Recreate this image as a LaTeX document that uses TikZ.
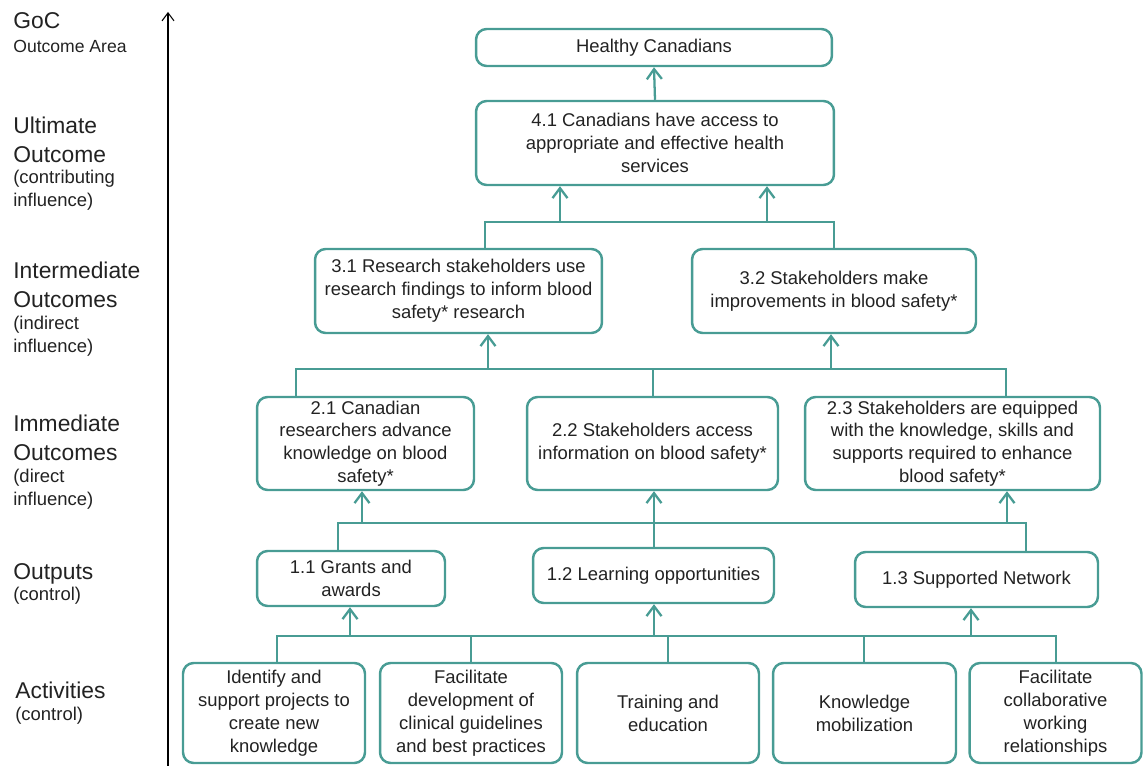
\documentclass[tikz,border=0pt]{standalone}
\usepackage{fontspec}
\setmainfont{Liberation Sans}
\usetikzlibrary{arrows.meta}
\definecolor{lmteal}{RGB}{72,156,148}
\definecolor{txtgray}{RGB}{34,34,34}

\begin{document}
\begin{tikzpicture}[
  x=0.02cm,y=-0.02cm,
  box/.style={draw=lmteal,line width=1.4pt,rounded corners=6pt,align=center,
              font=\fontsize{10.5}{13}\selectfont,text=txtgray,inner sep=2pt},
  outc/.style={box,minimum height=1.68cm},
  imm/.style={box,minimum height=1.86cm},
  outp/.style={box,minimum height=1.1cm},
  act/.style={box,minimum height=2cm,minimum width=3.64cm},
  ln/.style={draw=lmteal,line width=1.3pt},
  ar/.style={ln,-{Straight Barb[length=2mm,width=3mm]}},
  lvl/.style={anchor=north west,align=left,inner sep=0pt,text=txtgray,
              font=\fontsize{13}{16}\selectfont},
  lvls/.style={lvl,font=\fontsize{10.5}{13}\selectfont}
]
\useasboundingbox (0,0) rectangle (1143,766);

% level labels and axis
\node[lvl] (l0) at (13,12) {GoC};
\node[lvls,font=\fontsize{10}{12}\selectfont] (l0s) at (13,40) {Outcome Area};
\node[lvl] (l1) at (13,117) {Ultimate\\Outcome};
\node[lvls] (l1s) at (13,170) {(contributing\\influence)};
\node[lvl] (l2) at (13,262) {Intermediate\\Outcomes};
\node[lvls] (l2s) at (13,316) {(indirect\\influence)};
\node[lvl] (l3) at (13,415) {Immediate\\Outcomes};
\node[lvls] (l3s) at (13,469) {(direct\\influence)};
\node[lvl] (l4) at (13,563) {Outputs};
\node[lvls] (l4s) at (13,587) {(control)};
\node[lvl] (l5) at (15,682) {Activities};
\node[lvls] (l5s) at (15,707) {(control)};
\coordinate (axbot) at (168,766);
\coordinate (axtop) at (168,12);
\draw[line width=0.6pt,-{Straight Barb[length=1.6mm,width=2.4mm]}] (axbot) -- (axtop);

% outcome boxes
\node[box,minimum width=7.12cm,minimum height=0.74cm] (goc) at (654,47.5) {Healthy Canadians};
\node[outc,minimum width=7.16cm] (o41) at (655,143)
  {4.1 Canadians have access to\\appropriate and effective health\\services};
\node[outc,minimum width=5.74cm] (o31) at (458.5,291)
  {3.1 Research stakeholders use\\research findings to inform blood\\safety* research};
\node[outc,minimum width=5.68cm] (o32) at (834,291)
  {3.2 Stakeholders make\\improvements in blood safety*};
\node[imm,minimum width=4.34cm] (o21) at (365.5,443.5)
  {2.1 Canadian\\researchers advance\\knowledge on blood\\safety*};
\node[imm,minimum width=5.02cm] (o22) at (652.5,443.5)
  {2.2 Stakeholders access\\information on blood safety*};
\node[imm,minimum width=5.9cm] (o23) at (952.5,443.5)
  {2.3 Stakeholders are equipped\\with the knowledge, skills and\\supports required to enhance\\blood safety*};

% outputs
\node[outp,minimum width=3.76cm] (p11) at (351,578.5) {1.1 Grants and\\awards};
\node[outp,minimum width=4.82cm] (p12) at (653.5,575.5) {1.2 Learning opportunities};
\node[outp,minimum width=4.86cm] (p13) at (976.5,579.5) {1.3 Supported Network};

% activities
\node[act] (a1) at (274,713) {Identify and\\support projects to\\create new\\knowledge};
\node[act] (a2) at (471,713) {Facilitate\\development of\\clinical guidelines\\and best practices};
\node[act] (a3) at (668,713) {Training and\\education};
\node[act,minimum width=3.66cm] (a4) at (864.5,713) {Knowledge\\mobilization};
\node[act,minimum width=3.44cm] (a5) at (1055.5,713) {Facilitate\\collaborative\\working\\relationships};

% top
\draw[ar] (o41.north) -- (goc.south);

% 3.x -> 4.1
\coordinate (b4l) at (485,222);
\coordinate (b4r) at (834,222);
\draw[ln] (b4l |- o31.north) -- (b4l) -- (b4r) -- (o32.north);
\coordinate (u41a) at (560,222);
\coordinate (u41b) at (767,222);
\draw[ar] (u41a) -- (u41a |- o41.south);
\draw[ar] (u41b) -- (u41b |- o41.south);

% 2.x -> 3.x
\coordinate (b3l) at (296,369);
\coordinate (b3m) at (653,369);
\coordinate (b3r) at (1006,369);
\draw[ln] (b3l |- o21.north) -- (b3l) -- (b3r) -- (b3r |- o23.north);
\draw[ln] (b3m |- o22.north) -- (b3m);
\coordinate (u31) at (488,369);
\coordinate (u32) at (831,369);
\draw[ar] (u31) -- (u31 |- o31.south);
\draw[ar] (u32) -- (u32 |- o32.south);

% 1.x -> 2.x
\coordinate (b2l) at (338,523);
\coordinate (b2r) at (1026,523);
\draw[ln] (b2l |- p11.north) -- (b2l) -- (b2r) -- (b2r |- p13.north);
\coordinate (u21) at (362,523);
\coordinate (u22) at (654,523);
\coordinate (u23) at (1007,523);
\draw[ln] (u22 |- p12.north) -- (u22);
\draw[ar] (u21) -- (u21 |- o21.south);
\draw[ar] (u22) -- (u22 |- o22.south);
\draw[ar] (u23) -- (u23 |- o23.south);

% activities -> 1.x
\coordinate (b1l) at (277,636);
\coordinate (b1r) at (1056,636);
\draw[ln] (b1l |- a1.north) -- (b1l) -- (b1r) -- (b1r |- a5.north);
\foreach \x/\a in {471/a2,668/a3,864/a4}
  \draw[ln] (\x,636 |- \a.north) -- (\x,636);
\coordinate (u11) at (350,636);
\coordinate (u12) at (654,636);
\coordinate (u13) at (971,636);
\draw[ar] (u11) -- (u11 |- p11.south);
\draw[ar] (u12) -- (u12 |- p12.south);
\draw[ar] (u13) -- (u13 |- p13.south);
\end{tikzpicture}
\end{document}
